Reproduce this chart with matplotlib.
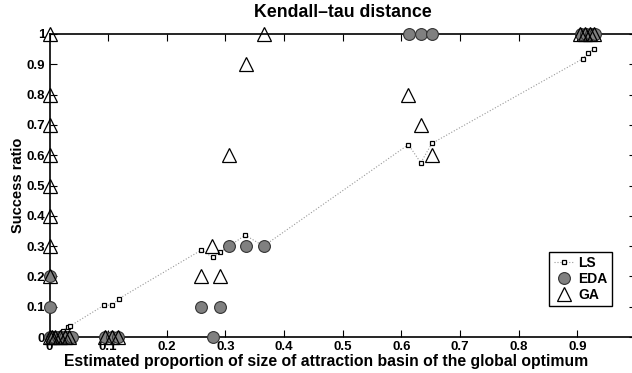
import matplotlib
matplotlib.use("Agg")
import matplotlib.pyplot as plt

# LS (local search) points, ordered along x
ls_x = [0.0, 0.005, 0.012, 0.0235, 0.031, 0.035, 0.093, 0.107, 0.118,
        0.259, 0.278, 0.291, 0.306, 0.334, 0.365, 0.612, 0.633, 0.652,
        0.909, 0.919, 0.928]
ls_y = [0.0, 0.0, 0.005, 0.021, 0.034, 0.036, 0.105, 0.105, 0.126,
        0.287, 0.263, 0.280, 0.30, 0.336, 0.30, 0.635, 0.575, 0.639,
        0.918, 0.938, 0.951]

# EDA points
eda_x = [0.0, 0.0, 0.0, 0.004, 0.008, 0.014, 0.02, 0.026, 0.032, 0.038,
         0.095, 0.106, 0.117, 0.259, 0.290, 0.278, 0.306, 0.335, 0.365,
         0.613, 0.633, 0.652, 0.907, 0.915, 0.923, 0.930]
eda_y = [0.1, 0.2, 0.0, 0.0, 0.0, 0.0, 0.0, 0.0, 0.0, 0.0,
         0.0, 0.0, 0.0, 0.1, 0.1, 0.0, 0.3, 0.3, 0.3,
         1.0, 1.0, 1.0, 1.0, 1.0, 1.0, 1.0]

# GA points
ga_x = [0.0, 0.0, 0.0, 0.0, 0.0, 0.0, 0.0, 0.0, 0.0, 0.004, 0.01, 0.018,
        0.026, 0.034, 0.095, 0.106, 0.117, 0.365, 0.335, 0.3055, 0.277,
        0.259, 0.291, 0.612, 0.633, 0.652, 0.905, 0.913, 0.921, 0.929]
ga_y = [1.0, 0.8, 0.7, 0.6, 0.5, 0.4, 0.3, 0.2, 0.0, 0.0, 0.0, 0.0,
        0.0, 0.0, 0.0, 0.0, 0.0, 1.0, 0.9, 0.6, 0.3,
        0.2, 0.2, 0.8, 0.7, 0.6, 1.0, 1.0, 1.0, 1.0]

xticks = [0, 0.1, 0.2, 0.3, 0.4, 0.5, 0.6, 0.7, 0.8, 0.9]
xticklabels = ["0", "0.1", "0.2", "0.3", "0.4", "0.5", "0.6", "0.7", "0.8", "0.9"]
yticks = [0, 0.1, 0.2, 0.3, 0.4, 0.5, 0.6, 0.7, 0.8, 0.9, 1.0]
yticklabels = ["0", "0.1", "0.2", "0.3", "0.4", "0.5", "0.6", "0.7", "0.8", "0.9", "1"]

plt.rcParams['font.family'] = ['Liberation Sans', 'DejaVu Sans']
plt.rcParams['font.weight'] = 'bold'

fig = plt.figure(figsize=(6.32, 3.73), dpi=100)
ax = fig.add_axes([49.5 / 632, 36 / 373, 586.5 / 632, 303 / 373])

ax.plot(ls_x, ls_y, linestyle=':', color='#999999', linewidth=0.8,
        marker='s', markersize=3.2, markerfacecolor='white',
        markeredgecolor='black', markeredgewidth=0.9, label='LS',
        clip_on=False, zorder=3)
ax.plot(eda_x, eda_y, linestyle='none', marker='o', markersize=8.5,
        markerfacecolor='#808080', markeredgecolor='#333333',
        markeredgewidth=0.8, label='EDA', clip_on=False, zorder=4)
ax.plot(ga_x, ga_y, linestyle='none', marker='^', markersize=10,
        markerfacecolor='none', markeredgecolor='black',
        markeredgewidth=0.9, label='GA', clip_on=False, zorder=5)

ax.set_xlim(0, 1)
ax.set_ylim(0, 1)
ax.set_xticks(xticks)
ax.set_xticklabels(xticklabels)
ax.set_yticks(yticks)
ax.set_yticklabels(yticklabels)
ax.tick_params(direction='in', length=5, width=0.8, labelsize=9.5,
               top=True, right=True, pad=3)
for lab in ax.get_xticklabels() + ax.get_yticklabels():
    lab.set_fontweight('bold')
for s in ax.spines.values():
    s.set_linewidth(1.2)

ax.set_title('Kendall\u2013tau distance', fontsize=12.8, fontweight='bold', pad=12)
ax.set_xlabel('Estimated proportion of size of attraction basin of the global optimum',
              fontsize=11.3, fontweight='bold', labelpad=-1)
ax.xaxis.set_label_coords((326 - 49.5) / 586.5, -0.055)
ax.xaxis.label.set_va('top')
ax.set_ylabel('Success ratio', fontsize=10.5, fontweight='bold', labelpad=1)

leg = ax.legend(loc='lower right', bbox_to_anchor=(612 / 632, (373 - 306) / 373),
                bbox_transform=fig.transFigure, fancybox=False, framealpha=1,
                edgecolor='black', fontsize=10, handlelength=1.5,
                borderpad=0.3, labelspacing=0.15, handletextpad=0.3,
                borderaxespad=0)
leg.get_frame().set_linewidth(1.0)
for t in leg.get_texts():
    t.set_fontweight('bold')

fig.savefig('out.png', dpi=100)
